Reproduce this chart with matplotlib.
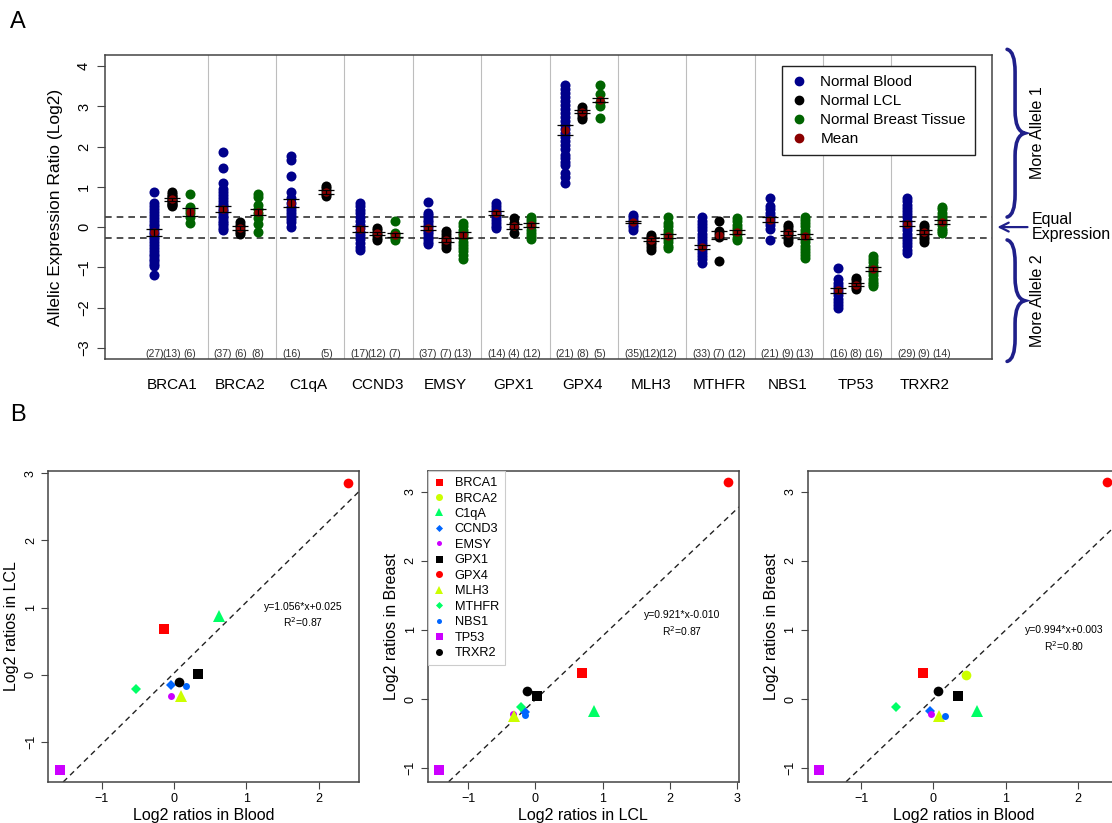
import numpy as np
import matplotlib
matplotlib.use("Agg")
import matplotlib.pyplot as plt
import matplotlib.transforms as mtransforms
from matplotlib.lines import Line2D
from matplotlib.path import Path
from matplotlib.patches import PathPatch

plt.rcParams["font.family"] = ["Liberation Sans", "DejaVu Sans"]

# ---- panel A data: per-sample log2 allelic ratios ----
genes = ["BRCA1", "BRCA2", "C1qA", "CCND3", "EMSY", "GPX1",
         "GPX4", "MLH3", "MTHFR", "NBS1", "TP53", "TRXR2"]

blood_vals = [
    [0.88, 0.6, 0.52, 0.45, 0.38, 0.3, 0.22, 0.15, 0.08, 0.02, -0.05, -0.12, -0.18,
     -0.25, -0.3, -0.38, -0.45, -0.52, -0.6, -0.68, -0.72, -0.8, -0.85, -0.92, -0.97, -1.2],
    [1.86, 1.46, 1.09, 0.95, 0.88, 0.8, 0.72, 0.65, 0.58, 0.52, 0.46, 0.4, 0.34, 0.28,
     0.22, 0.16, 0.1, 0.04, -0.02, -0.07],
    [1.76, 1.66, 1.27, 0.88, 0.72, 0.6, 0.5, 0.42, 0.35, 0.28, 0.2, 0.12, 0.0],
    [0.6, 0.52, 0.42, 0.35, 0.25, 0.15, 0.06, -0.03, -0.12, -0.2, -0.3, -0.4, -0.5, -0.57],
    [0.62, 0.35, 0.3, 0.24, 0.18, 0.12, 0.06, 0.0, -0.06, -0.12, -0.18, -0.24, -0.3,
     -0.36, -0.42],
    [0.6, 0.52, 0.45, 0.38, 0.32, 0.25, 0.18, 0.1, 0.03, -0.03],
    [3.53, 3.43, 3.33, 3.23, 3.13, 3.03, 2.93, 2.83, 2.73, 2.63, 2.53, 2.43, 2.33, 2.23,
     2.13, 2.03, 1.93, 1.8, 1.72, 1.62, 1.55, 1.35, 1.25, 1.09],
    [0.3, 0.24, 0.18, 0.12, 0.06, 0.0, -0.06],
    [0.24, 0.16, 0.08, 0.0, -0.08, -0.16, -0.24, -0.32, -0.4, -0.48, -0.56, -0.64,
     -0.72, -0.8, -0.9],
    [0.72, 0.52, 0.44, 0.36, 0.28, 0.2, 0.12, 0.04, -0.05, -0.31],
    [-1.02, -1.3, -1.38, -1.46, -1.54, -1.62, -1.7, -1.78, -1.86, -1.94, -2.0],
    [0.72, 0.64, 0.56, 0.48, 0.4, 0.32, 0.24, 0.16, 0.08, 0.0, -0.08, -0.16, -0.24,
     -0.32, -0.4, -0.48, -0.56, -0.64],
]
lcl_vals = [
    [0.87, 0.82, 0.78, 0.74, 0.7, 0.67, 0.64, 0.6, 0.57, 0.54, 0.52],
    [0.12, 0.06, 0.0, -0.06, -0.12, -0.18],
    [1.03, 0.97, 0.9, 0.83, 0.77],
    [-0.02, -0.08, -0.14, -0.2, -0.26, -0.31],
    [-0.1, -0.17, -0.24, -0.31, -0.38, -0.45, -0.52],
    [0.22, 0.1, 0.0, -0.15],
    [2.98, 2.92, 2.86, 2.8, 2.74, 2.7],
    [-0.19, -0.25, -0.31, -0.37, -0.43, -0.5, -0.56],
    [0.15, -0.1, -0.18, -0.24, -0.85],
    [0.06, 0.0, -0.06, -0.12, -0.18, -0.24, -0.3, -0.38],
    [-1.26, -1.32, -1.38, -1.44, -1.5, -1.55],
    [0.06, 0.0, -0.06, -0.12, -0.18, -0.24, -0.3, -0.38],
]
breast_vals = [
    [0.82, 0.5, 0.42, 0.35, 0.25, 0.1],
    [0.83, 0.75, 0.55, 0.45, 0.35, 0.22, 0.08, -0.12],
    [],
    [0.16, -0.14, -0.2, -0.26, -0.31],
    [0.1, 0.02, -0.06, -0.14, -0.2, -0.28, -0.36, -0.44, -0.52, -0.6, -0.7, -0.8],
    [0.26, 0.18, 0.1, 0.02, -0.06, -0.14, -0.22, -0.3],
    [3.53, 3.3, 3.12, 3.0, 2.72],
    [0.26, 0.1, 0.02, -0.06, -0.14, -0.22, -0.3, -0.38, -0.46, -0.52],
    [0.22, 0.14, 0.06, -0.02, -0.1, -0.18, -0.26, -0.31],
    [0.26, 0.18, 0.1, 0.02, -0.06, -0.14, -0.22, -0.3, -0.38, -0.46, -0.54, -0.62,
     -0.7, -0.77],
    [-0.73, -0.8, -0.88, -0.96, -1.04, -1.12, -1.2, -1.28, -1.36, -1.42, -1.47],
    [0.51, 0.44, 0.36, 0.28, 0.2, 0.12, 0.04, -0.04, -0.1, -0.15],
]

blood_mean = [-0.13, 0.45, 0.61, -0.04, -0.02, 0.35, 2.41, 0.12, -0.50, 0.18, -1.57, 0.08]
lcl_mean = [0.69, -0.02, 0.87, -0.15, -0.31, 0.02, 2.87, -0.31, -0.19, -0.15, -1.43, -0.12]
breast_mean = [0.38, 0.37, None, -0.19, -0.19, 0.06, 3.16, -0.23, -0.12, -0.23, -1.03, 0.12]
blood_se = [0.09, 0.07, 0.10, 0.07, 0.04, 0.05, 0.12, 0.02, 0.05, 0.06, 0.06, 0.06]
lcl_se = [0.04, 0.05, 0.05, 0.04, 0.05, 0.06, 0.04, 0.04, 0.10, 0.05, 0.04, 0.05]
breast_se = [0.10, 0.08, None, 0.05, 0.07, 0.05, 0.06, 0.05, 0.04, 0.07, 0.05, 0.05]

blood_n = [27, 37, 16, 17, 37, 14, 21, 35, 33, 21, 16, 29]
lcl_n = [13, 6, 5, 12, 7, 4, 8, 12, 7, 9, 8, 9]
breast_n = [6, 8, None, 7, 13, 12, 5, 12, 12, 13, 16, 14]

# ---- panel B data: tissue mean log2 ratios per gene ----
b1_blood = [-0.14, np.nan, 0.62, -0.04, -0.04, 0.34, 2.40, 0.10, -0.52, 0.17, -1.58, 0.07]
b1_lcl = [0.68, np.nan, 0.87, -0.15, -0.32, 0.01, 2.86, -0.31, -0.21, -0.16, -1.42, -0.11]
b2_lcl = [0.69, np.nan, 0.87, -0.15, -0.33, 0.02, 2.86, -0.31, -0.21, -0.16, -1.43, -0.12]
b2_breast = [0.38, np.nan, -0.18, -0.19, -0.22, 0.04, 3.14, -0.25, -0.12, -0.23, -1.03, 0.12]
b3_blood = [-0.15, 0.45, 0.61, -0.05, -0.03, 0.34, 2.41, 0.08, -0.52, 0.16, -1.58, 0.07]
b3_breast = [0.38, 0.35, -0.18, -0.18, -0.21, 0.05, 3.14, -0.24, -0.12, -0.24, -1.03, 0.11]

fits = [(1.056, 0.025, "y=1.056*x+0.025", "0.87"),
        (0.921, -0.010, "y=0.921*x-0.010", "0.87"),
        (0.994, 0.003, "y=0.994*x+0.003", "0.80")]

gene_colors = ["#FF0000", "#CCFF00", "#00FF66", "#0066FF", "#CC00FF", "#000000"] * 2
gene_markers = ["s", "o", "^", "D", "o"] * 3
gene_msizes = [7, 7, 8.5, 5, 5] * 3

BLOOD_C, LCL_C, BREAST_C, MEAN_C = "#00008B", "#000000", "#006400", "#8B0000"
NAVY = "#1f1f8a"

fig = plt.figure(figsize=(11.12, 8.23), dpi=100)

# ================= panel A =================
axA = fig.add_axes([0.0944, 0.5638, 0.7977, 0.3694])
offsets = [-0.256, 0.0, 0.256]
groups = [(blood_vals, blood_mean, blood_se, blood_n, BLOOD_C),
          (lcl_vals, lcl_mean, lcl_se, lcl_n, LCL_C),
          (breast_vals, breast_mean, breast_se, breast_n, BREAST_C)]

for i in range(len(genes)):
    for k, (vals, means, ses, ns, col) in enumerate(groups):
        if not vals[i]:
            continue
        slot = k
        # genes without breast tissue show LCL in the third column
        if k == 1 and not breast_vals[i]:
            slot = 2
        x = i + offsets[slot]
        axA.scatter(np.full(len(vals[i]), x), vals[i], s=52, color=col,
                    linewidths=0, zorder=3)
        axA.scatter([x], [means[i]], s=36, color=MEAN_C, linewidths=0, zorder=4)
        axA.errorbar([x], [means[i]], yerr=[ses[i]], fmt="none", ecolor="black",
                     elinewidth=0.9, capsize=5.8, capthick=0.9, zorder=5)
        axA.text(x, -3.15, f"({ns[i]})", ha="center", va="center",
                 fontsize=7.5, color="#333333")

for i in range(len(genes) - 1):
    axA.axvline(i + 0.52, color="#bdbdbd", lw=0.8, zorder=0)
for yy in (np.log2(1.2), -np.log2(1.2)):
    axA.axhline(yy, color="#333333", lw=1.2, ls=(0, (4, 3)), zorder=2)

axA.set_xticks(range(len(genes)))
axA.set_xticklabels(genes, fontsize=11)
axA.set_yticks(range(-3, 5))
axA.set_xlim(-0.98, 11.99)
axA.set_ylim(-3.28, 4.28)
axA.tick_params(axis="x", length=0, pad=14)
axA.tick_params(axis="y", labelsize=10.5, length=6, pad=4, labelrotation=90,
                color="#444444")
for lab in axA.get_yticklabels():
    lab.set_va("center")
axA.set_ylabel("Allelic Expression Ratio (Log2)", fontsize=12.5, labelpad=10)
for sp in axA.spines.values():
    sp.set_color("#444444")
    sp.set_linewidth(1.1)

handles = [Line2D([], [], ls="", marker="o", color=c, markersize=6)
           for c in (BLOOD_C, LCL_C, BREAST_C, MEAN_C)]
legA = axA.legend(handles, ["Normal Blood", "Normal LCL", "Normal Breast Tissue", "Mean"],
                  loc="upper right", bbox_to_anchor=(0.981, 0.964), fontsize=11,
                  frameon=True, fancybox=False, framealpha=1, edgecolor="#222222",
                  handlelength=1.0, handletextpad=0.9, labelspacing=0.33,
                  borderpad=0.6, borderaxespad=0)
legA.get_frame().set_linewidth(1.0)


def draw_brace(ax, ytop, ybot, x0=1.017, xs=1.026, xt=1.037, d=0.28):
    """Curly brace '}' to the right of ax, spanning ytop..ybot in data units."""
    trans = mtransforms.blended_transform_factory(ax.transAxes, ax.transData)
    ym = (ytop + ybot) / 2
    verts = [(x0, ytop), (xs, ytop - 0.05), (xs, ytop - 2 * d),
             (xs, ym + 2 * d), (xs, ym + 0.2 * d), (xt, ym),
             (xs, ym - 0.2 * d), (xs, ym - 2 * d),
             (xs, ybot + 2 * d), (xs, ybot + 0.05), (x0, ybot)]
    codes = [Path.MOVETO, Path.CURVE3, Path.CURVE3,
             Path.LINETO, Path.CURVE3, Path.CURVE3,
             Path.CURVE3, Path.CURVE3,
             Path.LINETO, Path.CURVE3, Path.CURVE3]
    patch = PathPatch(Path(verts, codes), transform=trans, facecolor="none",
                      edgecolor=NAVY, lw=2.6, clip_on=False, capstyle="round")
    ax.add_patch(patch)


draw_brace(axA, 4.42, 0.25)
draw_brace(axA, -0.32, -3.34)
axA.text(1.051, 2.34, "More Allele 1", transform=axA.get_yaxis_transform(),
         rotation=90, ha="center", va="center", fontsize=11.5, clip_on=False)
axA.text(1.051, -1.83, "More Allele 2", transform=axA.get_yaxis_transform(),
         rotation=90, ha="center", va="center", fontsize=11.5, clip_on=False)
axA.text(1.045, 0.0, "Equal\nExpression", transform=axA.get_yaxis_transform(),
         ha="left", va="center", fontsize=11.5, linespacing=1.05, clip_on=False)
axA.annotate("", xy=(1.006, 0.0), xytext=(1.040, 0.0),
             xycoords=axA.get_yaxis_transform(), textcoords=axA.get_yaxis_transform(),
             arrowprops=dict(arrowstyle="->", color=NAVY, lw=1.6,
                             mutation_scale=16, shrinkA=0, shrinkB=0))

# ================= panel B =================
b_specs = [
    ([0.0432, 0.0498, 0.2797, 0.3779], b1_blood, b1_lcl,
     "Log2 ratios in Blood", "Log2 ratios in LCL", (1.79, 1.01)),
    ([0.3846, 0.0502, 0.2800, 0.3779], b2_lcl, b2_breast,
     "Log2 ratios in LCL", "Log2 ratios in Breast", (2.19, 1.21)),
    ([0.7263, 0.0502, 0.2800, 0.3779], b3_blood, b3_breast,
     "Log2 ratios in Blood", "Log2 ratios in Breast", (1.81, 1.00)),
]

for j, (rect, xs_, ys_, xlab, ylab, txy) in enumerate(b_specs):
    ax = fig.add_axes(rect)
    xv = np.array(xs_, dtype=float)
    yv = np.array(ys_, dtype=float)
    for g in range(len(genes)):
        if np.isnan(xv[g]):
            continue
        ax.plot(xv[g], yv[g], ls="", marker=gene_markers[g], color=gene_colors[g],
                markersize=gene_msizes[g], markeredgewidth=0, zorder=3)
    ax.set_xticks([-1, 0, 1, 2, 3])
    ax.set_yticks([-1, 0, 1, 2, 3])
    # R-style 4% padding around the data
    xr = np.nanmax(xv) - np.nanmin(xv)
    yr = np.nanmax(yv) - np.nanmin(yv)
    ax.set_xlim(np.nanmin(xv) - 0.04 * xr, np.nanmax(xv) + 0.04 * xr)
    ax.set_ylim(np.nanmin(yv) - 0.04 * yr, np.nanmax(yv) + 0.04 * yr)
    slope, icpt, eq, r2 = fits[j]
    ax.axline((0, icpt), slope=slope, color="#222222", lw=1.0, ls=(0, (4, 3)), zorder=2)
    ax.text(txy[0], txy[1], eq, ha="center", va="center", fontsize=7.5)
    ax.text(txy[0], txy[1] - 0.23, f"R$^2$={r2}", ha="center", va="center", fontsize=7.5)
    ax.tick_params(labelsize=9, length=5, pad=3, color="#444444")
    ax.tick_params(axis="y", labelrotation=90)
    for lab in ax.get_yticklabels():
        lab.set_va("center")
    ax.set_xlabel(xlab, fontsize=11.5, labelpad=2)
    ax.set_ylabel(ylab, fontsize=11.5, labelpad=4)
    for sp in ax.spines.values():
        sp.set_color("#444444")
        sp.set_linewidth(1.1)
    if j == 1:
        lh = [Line2D([], [], ls="", marker=gene_markers[g], color=gene_colors[g],
                     markersize=gene_msizes[g] * 0.72, markeredgewidth=0)
              for g in range(len(genes))]
        lg = ax.legend(lh, genes, loc="upper left", bbox_to_anchor=(0, 1),
                       fontsize=9.2, frameon=True, fancybox=False, framealpha=1,
                       edgecolor="#cccccc", handlelength=0.8, handletextpad=0.8,
                       labelspacing=0.27, borderpad=0.5, borderaxespad=0)
        lg.get_frame().set_linewidth(0.8)

fig.text(18 / 1112, 1 - 22 / 823, "A", fontsize=17, ha="center", va="center")
fig.text(18 / 1112, 1 - 415 / 823, "B", fontsize=17, ha="center", va="center")

fig.savefig("out.png", dpi=100)
